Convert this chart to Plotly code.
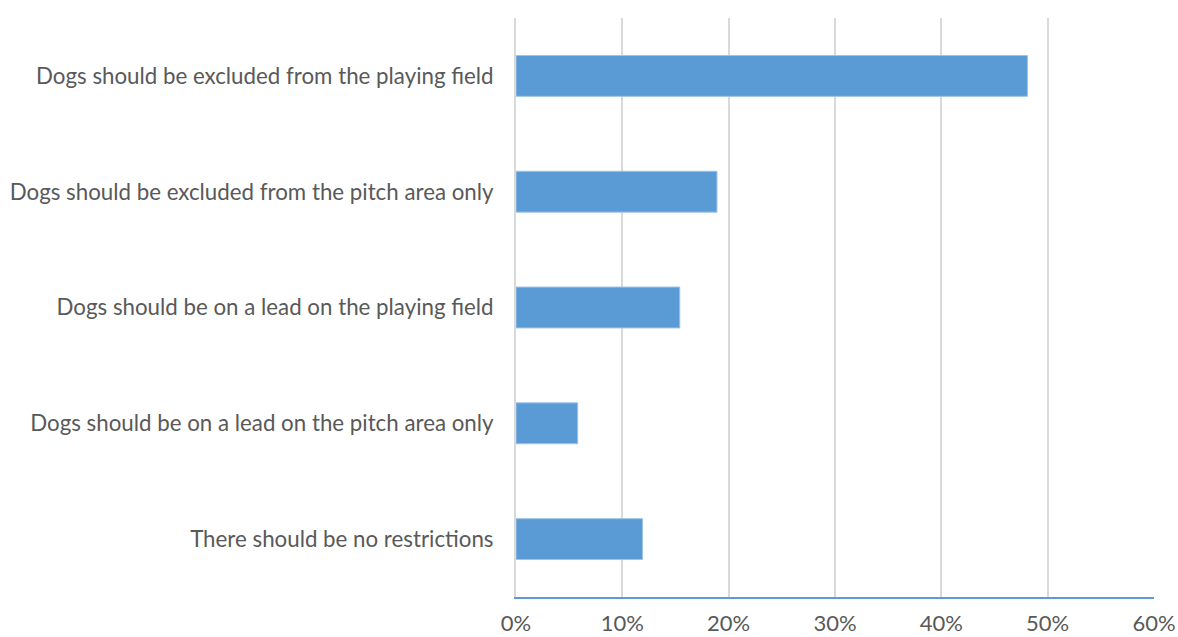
import plotly.graph_objects as go

categories = [
    "Dogs should be excluded from the playing field",
    "Dogs should be excluded from the pitch area only",
    "Dogs should be on a lead on the playing field",
    "Dogs should be on a lead on the pitch area only",
    "There should be no restrictions",
]
values = [48.1, 18.9, 15.4, 5.8, 11.9]
x_ticks = [0, 10, 20, 30, 40, 50, 60]
x_tick_labels = ["0%", "10%", "20%", "30%", "40%", "50%", "60%"]

fig = go.Figure(
    go.Bar(
        y=categories,
        x=values,
        orientation="h",
        marker=dict(color="#5b9bd5", line=dict(color="#9dc3e6", width=1)),
    )
)

fig.update_layout(
    width=1178,
    height=637,
    margin=dict(l=516, r=24, t=18, b=40),
    paper_bgcolor="white",
    plot_bgcolor="white",
    bargap=0.647,
    showlegend=False,
    font=dict(family="Lato", size=22, color="#595959"),
)
fig.update_xaxes(
    range=[0, 60],
    tickvals=x_ticks,
    ticktext=x_tick_labels,
    showgrid=True,
    gridcolor="#d9d9d9",
    gridwidth=2,
    zeroline=False,
    showline=True,
    linecolor="#5b9bd5",
    linewidth=2,
    ticks="",
    automargin=False,
    ticklabeloverflow="allow",
    ticklabelstandoff=6,
    tickfont=dict(size=22),
)
fig.update_yaxes(
    autorange="reversed",
    showgrid=False,
    zeroline=False,
    showline=True,
    linecolor="#d9d9d9",
    linewidth=2,
    ticks="",
    automargin=False,
    ticklabelstandoff=16,
    tickfont=dict(size=22.3),
)

fig.write_html(
    "out.html",
    config={"displayModeBar": False},
    post_script="document.body.style.margin='0';document.body.style.overflow='hidden';",
)
